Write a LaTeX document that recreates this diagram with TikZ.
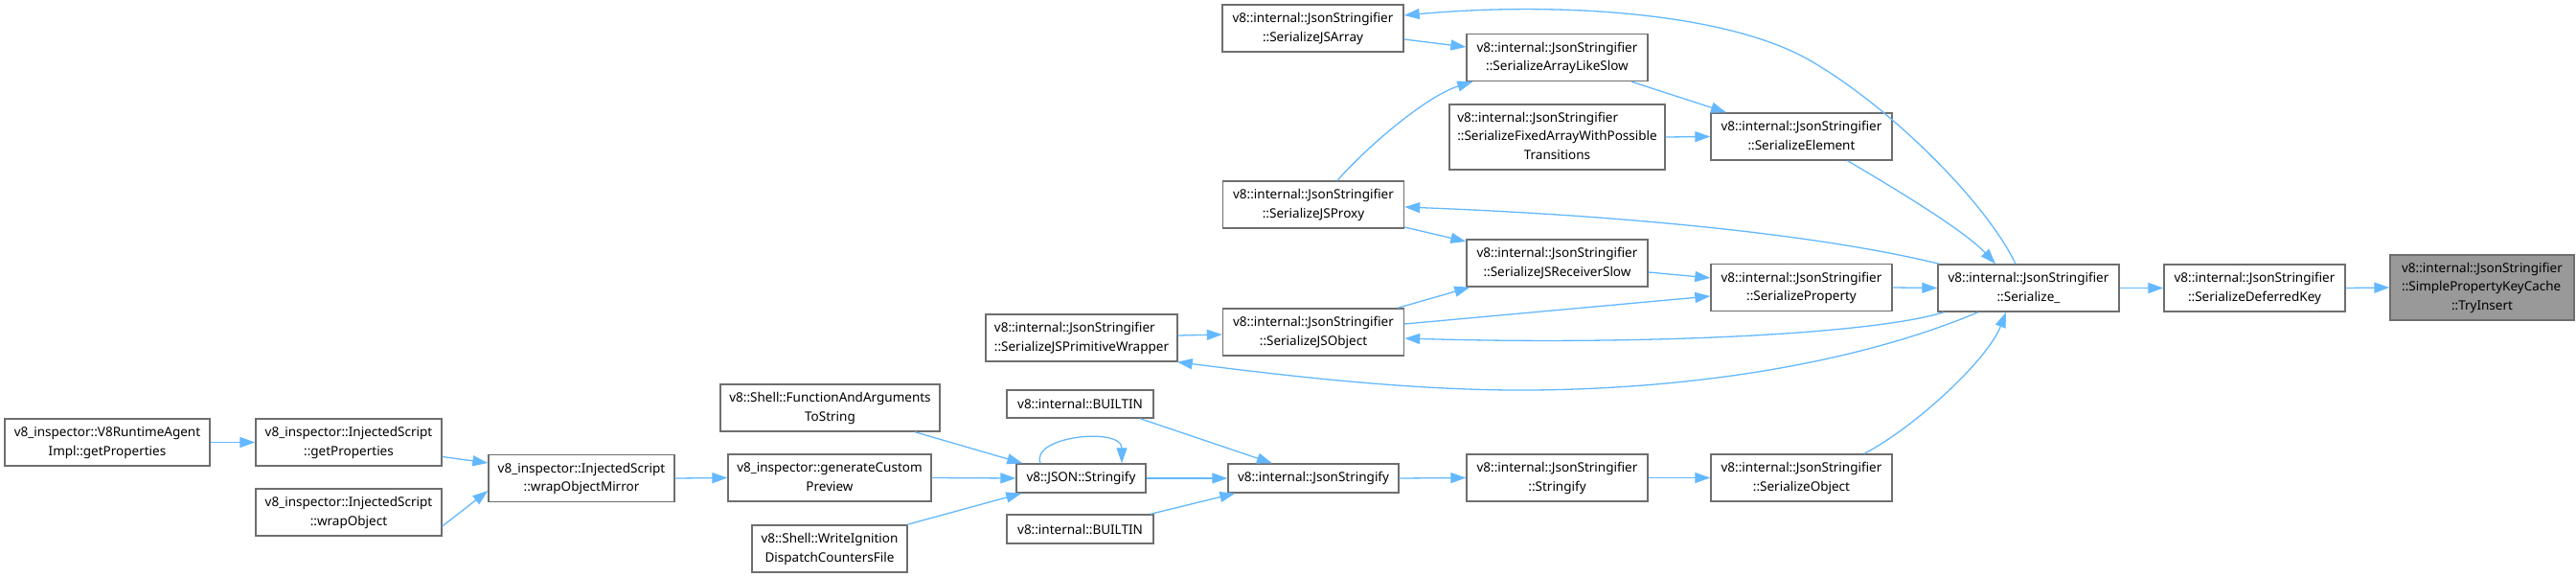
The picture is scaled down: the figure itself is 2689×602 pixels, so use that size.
\documentclass[tikz,border=0pt]{standalone}
\usepackage{fontspec}
\setmainfont{Noto Sans}
\usetikzlibrary{arrows.meta}
\definecolor{edgec}{HTML}{63B8FF}
\definecolor{bordc}{HTML}{6E6E6E}
\definecolor{hilite}{HTML}{999999}
\newcommand{\lft}[1]{\multicolumn{1}{@{}l@{}}{#1}}
\newcommand{\twol}[2]{\begin{tabular}{@{}c@{}}\lft{#1}\\#2\end{tabular}}
\newcommand{\threel}[3]{\begin{tabular}{@{}c@{}}\lft{#1}\\\lft{#2}\\#3\end{tabular}}
\newcommand{\nodefont}{\fontsize{13.5}{19.3}\selectfont}
\tikzset{
  box/.style={draw=bordc, line width=1.4pt, fill=white, inner sep=0pt,
    font=\nodefont, minimum height=49pt, anchor=center},
  bw/.style={minimum width=#1},
  bh/.style={minimum height=#1},
  edge/.style={draw=edgec, line width=1.3pt,
    -{Triangle[length=16pt,width=11pt]}},
}
\begin{document}
\begin{tikzpicture}[x=1pt,y=-1pt]
\useasboundingbox (0,0) rectangle (2689,602);

% nodes
\node[box,bw=192pt,bh=68pt,fill=hilite] (ti) at (2591,300) {\threel{v8::internal::JsonStringifier}{::SimplePropertyKeyCache}{::TryInsert}};
\node[box,bw=189pt] (dk) at (2353.5,300.5) {\twol{v8::internal::JsonStringifier}{::SerializeDeferredKey}};
\node[box,bw=189pt] (ser) at (2117.5,300.5) {\twol{v8::internal::JsonStringifier}{::Serialize\_}};
\node[box,bw=189pt] (elem) at (1880.5,142.5) {\twol{v8::internal::JsonStringifier}{::SerializeElement}};
\node[box,bw=189pt] (prop) at (1880.5,300) {\twol{v8::internal::JsonStringifier}{::SerializeProperty}};
\node[box,bw=189pt] (sobj) at (1880.5,498.5) {\twol{v8::internal::JsonStringifier}{::SerializeObject}};
\node[box,bw=189pt] (als) at (1625.5,60) {\twol{v8::internal::JsonStringifier}{::SerializeArrayLikeSlow}};
\node[box,bw=225pt,bh=68pt] (fixed) at (1625.5,143) {\threel{v8::internal::JsonStringifier}{::SerializeFixedArrayWithPossible}{Transitions}};
\node[box,bw=189pt] (jsrs) at (1625.5,274.5) {\twol{v8::internal::JsonStringifier}{::SerializeJSReceiverSlow}};
\node[box,bw=189pt] (jstr) at (1625.5,498.5) {\twol{v8::internal::JsonStringifier}{::Stringify}};
\node[box,bw=189pt] (jsarr) at (1370.5,29.5) {\twol{v8::internal::JsonStringifier}{::SerializeJSArray}};
\node[box,bw=189pt] (jsprox) at (1371,213.5) {\twol{v8::internal::JsonStringifier}{::SerializeJSProxy}};
\node[box,bw=189pt] (jsobj) at (1371,346.5) {\twol{v8::internal::JsonStringifier}{::SerializeJSObject}};
\node[box,bw=200pt] (prim) at (1129,352.5) {\twol{v8::internal::JsonStringifier}{::SerializeJSPrimitiveWrapper}};
\node[box,bw=153pt,bh=29pt] (bt1) at (1127.5,421.5) {v8::internal::BUILTIN};
\node[box,bw=135pt,bh=30pt] (jsons) at (1128.5,499) {v8::JSON::Stringify};
\node[box,bw=153pt,bh=30pt] (bt2) at (1127.5,552) {v8::internal::BUILTIN};
\node[box,bw=178pt,bh=30pt] (jsonstr) at (1371,499) {v8::internal::JsonStringify};
\node[box,bw=229pt] (fats) at (866.5,425.5) {\twol{v8::Shell::FunctionAndArguments}{ToString}};
\node[box,bw=212pt] (gcp) at (866,498.5) {\twol{v8\_inspector::generateCustom}{Preview}};
\node[box,bw=162pt] (wicf) at (866,572.5) {\twol{v8::Shell::WriteIgnition}{DispatchCountersFile}};
\node[box,bw=194pt] (wom) at (607,499) {\twol{v8\_inspector::InjectedScript}{::wrapObjectMirror}};
\node[box,bw=194pt] (igp) at (364,461.5) {\twol{v8\_inspector::InjectedScript}{::getProperties}};
\node[box,bw=194pt] (wo) at (364,534.5) {\twol{v8\_inspector::InjectedScript}{::wrapObject}};
\node[box,bw=214pt] (v8r) at (112,461.5) {\twol{v8\_inspector::V8RuntimeAgent}{Impl::getProperties}};

% edges
\draw[edge] (dk.east) -- (ti.west);
\draw[edge] (ser.east) -- (dk.west);
\draw[edge] (prop.east) -- (ser.west);
\draw[edge] ([xshift=48pt]elem.south) .. controls (1975,195) and (2050,240) .. ([xshift=-34.5pt]ser.north);
\draw[edge] ([xshift=65.5pt]sobj.north) .. controls (2000,445) and (2075,375) .. ([xshift=-23.5pt]ser.south);
\draw[edge] ([xshift=-13.5pt]ser.north) .. controls (2070,205) and (1960,100) .. (1880,58)
   .. controls (1790,12) and (1620,2) .. ([yshift=13.5pt]jsarr.east);
\draw[edge] ([xshift=2pt]ser.north west) .. controls (1900,245) and (1700,225) .. ([yshift=-2.5pt]jsprox.east);
\draw[edge] ([xshift=7pt]ser.south west) .. controls (1950,350) and (1700,360) .. ([yshift=-6.5pt]jsobj.east);
\draw[edge] ([xshift=-52.5pt]ser.south) .. controls (1960,370) and (1800,405) .. (1600,407)
   .. controls (1480,408) and (1350,393) .. ([xshift=-1pt]prim.south east);
\draw[edge] ([yshift=-11.5pt]jsarr.east) -- ([yshift=11pt]als.west);
\draw[edge] ([xshift=25pt]jsprox.north) .. controls (1430,150) and (1490,100) .. ([xshift=7pt]als.south west);
\draw[edge] ([xshift=77.5pt]als.south) -- ([xshift=-78.5pt]elem.north);
\draw[edge] (fixed.east) -- (elem.west);
\draw[edge] ([yshift=-23.5pt]jsprox.east) -- ([yshift=22.5pt]jsrs.west);
\draw[edge] ([yshift=-9.5pt]jsrs.east) -- ([yshift=10pt]prop.west);
\draw[edge] ([xshift=88pt]jsobj.north) -- ([xshift=4pt]jsrs.south west);
\draw[edge] ([yshift=8.5pt]jsobj.east) -- ([yshift=-9pt]prop.west);
\draw[edge] ([yshift=2.5pt]prim.east) -- ([yshift=-2.5pt]jsobj.west);
\draw[edge] ([xshift=62.5pt]bt1.south) -- ([xshift=-43pt]jsonstr.north);
\draw[edge] (jsons.east) -- (jsonstr.west);
\draw[edge] ([xshift=73.5pt]bt2.north) -- ([xshift=8pt]jsonstr.south west);
\draw[edge] (jsonstr.east) -- (jstr.west);
\draw[edge] (jstr.east) -- (sobj.west);
\draw[edge] ([xshift=88.5pt]fats.south) -- ([xshift=7pt]jsons.north west);
\draw[edge] (gcp.east) -- (jsons.west);
\draw[edge] ([xshift=81pt]wicf.north) -- ([xshift=6pt]jsons.south west);
\draw[edge] ([xshift=-42.5pt]jsons.north) .. controls (1075,455) and (1171,445) .. ([xshift=42.5pt]jsons.north);
\draw[edge] (wom.east) -- (gcp.west);
\draw[edge] ([yshift=-15pt]igp.east) -- ([yshift=16pt]wom.west);
\draw[edge] ([yshift=-14.5pt]wo.east) -- ([yshift=-13pt]wom.west);
\draw[edge] (v8r.east) -- (igp.west);
\end{tikzpicture}
\end{document}
